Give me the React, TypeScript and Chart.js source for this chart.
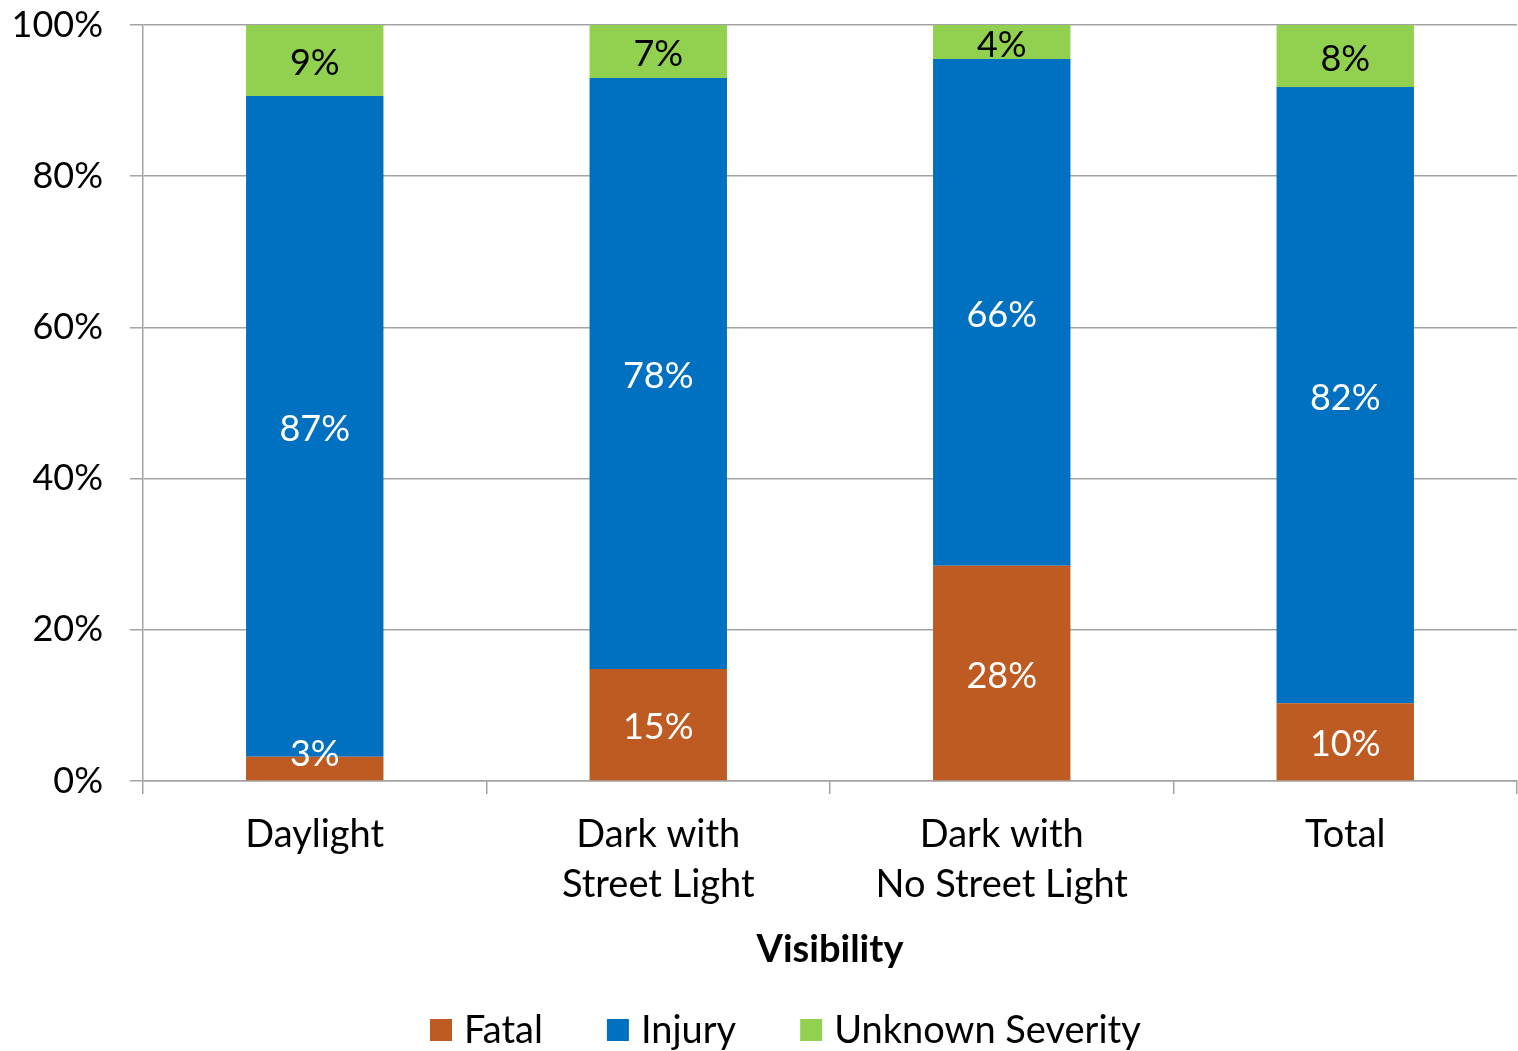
import { useEffect, useRef } from 'react';
import { Chart, registerables } from 'chart.js';

Chart.register(...registerables);

// Crash severity share by visibility condition (percent of crashes)
const categories: string[][] = [
  ['Daylight'],
  ['Dark with', 'Street Light'],
  ['Dark with', 'No Street Light'],
  ['Total'],
];
const seriesNames = ['Fatal', 'Injury', 'Unknown Severity'];
const fatalPct = [3.2, 14.8, 27.9, 10.3];
const injuryPct = [87.4, 78.2, 65.7, 81.5];
const unknownPct = [9.4, 7.0, 4.4, 8.2];
const seriesColors = ['#BD5B22', '#0070C0', '#92D050'];
const labelColors = ['#FFFFFF', '#FFFFFF', '#000000'];
const yTickValues = [0, 20, 40, 60, 80, 100];

const FONT = 'Lato';
const NUM_SIZE = 36;
const WORD_SIZE = 38;
const GRID = '#a3a3a3';

const rawSeries = [fatalPct, injuryPct, unknownPct];
const totals = categories.map((_, i) => rawSeries.reduce((s, arr) => s + arr[i], 0));
// 100% stacked: each category is scaled to its own total
const toShare = (arr: number[]) => arr.map((v, i) => (v / totals[i]) * 100);

const segmentLabels = {
  id: 'segmentLabels',
  afterDatasetsDraw(chart: any) {
    const { ctx, chartArea } = chart;
    ctx.save();
    ctx.font = `${NUM_SIZE}px ${FONT}`;
    ctx.textAlign = 'center';
    ctx.textBaseline = 'middle';
    chart.data.datasets.forEach((ds: any, di: number) => {
      const meta = chart.getDatasetMeta(di);
      meta.data.forEach((bar: any, i: number) => {
        const mid = (bar.y + bar.base) / 2 + 3;
        const cy = Math.min(mid, chartArea.bottom - 27);
        ctx.fillStyle = labelColors[di];
        ctx.fillText(`${Math.round(ds.raw[i])}%`, bar.x, cy);
      });
    });
    ctx.restore();
  },
};

const bottomLegend = {
  id: 'bottomLegend',
  afterDraw(chart: any) {
    const { ctx } = chart;
    ctx.save();
    ctx.font = `${WORD_SIZE}px ${FONT}`;
    ctx.textBaseline = 'middle';
    ctx.textAlign = 'left';
    let x = 430;
    const cy = 1030;
    chart.data.datasets.forEach((ds: any) => {
      ctx.fillStyle = ds.backgroundColor;
      ctx.fillRect(x, cy - 11, 22, 22);
      x += 22 + 12;
      ctx.fillStyle = '#000';
      ctx.fillText(ds.label, x, cy + 1);
      x += ctx.measureText(ds.label).width + 64;
    });
    ctx.restore();
  },
};

export default function App() {
  const canvasRef = useRef<HTMLCanvasElement | null>(null);

  useEffect(() => {
    let chart: Chart | null = null;
    let cancelled = false;

    const build = () => {
      if (cancelled || !canvasRef.current) return;
      chart = new Chart(canvasRef.current, {
        type: 'bar',
        data: {
          labels: categories as any,
          datasets: rawSeries.map((arr, k) => ({
            label: seriesNames[k],
            data: toShare(arr),
            raw: arr,
            backgroundColor: seriesColors[k],
            borderWidth: 0,
            barPercentage: 0.4,
            categoryPercentage: 1,
          })) as any,
        },
        options: {
          responsive: false,
          devicePixelRatio: 1,
          animation: false,
          layout: { padding: { top: 25, right: 1, bottom: 78.5, left: 0 } },
          plugins: {
            legend: { display: false },
            tooltip: { enabled: false },
          },
          scales: {
            x: {
              stacked: true,
              afterFit: (s: any) => {
                s.height = 191.5;
                s.paddingLeft = 0;
                s.paddingRight = 0;
              },
              grid: {
                display: true,
                offset: true,
                drawOnChartArea: false,
                drawTicks: true,
                tickLength: 13,
                color: GRID,
                lineWidth: 1.5,
              },
              border: { display: true, color: GRID, width: 1.5 },
              ticks: {
                color: '#000',
                padding: 16,
                maxRotation: 0,
                autoSkip: false,
                font: { family: FONT, size: WORD_SIZE, lineHeight: 50 / WORD_SIZE },
              },
              title: {
                display: true,
                text: 'Visibility',
                color: '#000',
                padding: 0,
                font: { family: FONT, size: WORD_SIZE, weight: 'bold', lineHeight: 1.2 },
              },
            },
            y: {
              stacked: true,
              min: 0,
              max: 100,
              afterFit: (s: any) => {
                s.width = 143;
                s.paddingTop = 0;
                s.paddingBottom = 0;
              },
              afterBuildTicks: (s: any) => {
                s.ticks = yTickValues.map((v) => ({ value: v }));
              },
              grid: {
                color: GRID,
                lineWidth: 1.5,
                drawTicks: true,
                tickLength: 13,
              },
              border: { display: true, color: GRID, width: 1.5 },
              ticks: {
                color: '#000',
                padding: 27,
                font: { family: FONT, size: NUM_SIZE },
                callback: (v: any) => `${v}%`,
              },
            },
          },
        },
        plugins: [segmentLabels, bottomLegend],
      });
    };

    const fonts = (document as any).fonts;
    if (fonts && fonts.load) {
      Promise.all([fonts.load(`${WORD_SIZE}px ${FONT}`), fonts.load(`bold ${WORD_SIZE}px ${FONT}`)])
        .catch(() => undefined)
        .then(build);
    } else {
      build();
    }

    return () => {
      cancelled = true;
      if (chart) chart.destroy();
    };
  }, []);

  return (
    <div style={{ position: 'absolute', left: 0, top: 0, width: 1518, height: 1051, background: '#fff' }}>
      <canvas ref={canvasRef} width={1518} height={1051} style={{ width: 1518, height: 1051, display: 'block' }} />
    </div>
  );
}
